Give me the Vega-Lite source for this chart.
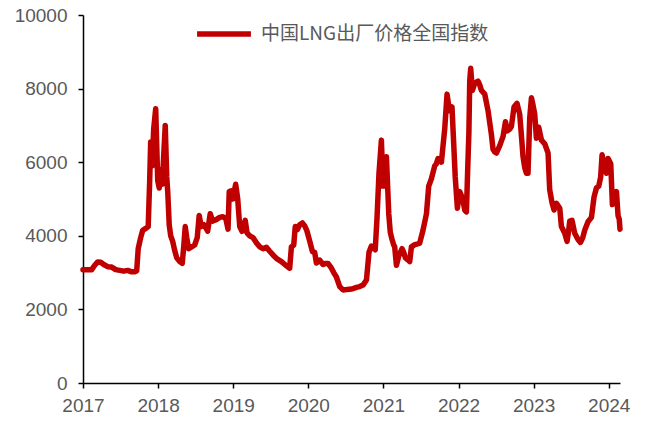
{
  "$schema": "https://vega.github.io/schema/vega-lite/v6.json",
  "width": 537,
  "height": 368,
  "autosize": {"type": "none"},
  "padding": {"left": 83, "top": 15, "right": 25, "bottom": 38},
  "config": {"view": {"stroke": null}, "font": "Liberation Sans"},
  "data": {"values": [
    {"t": 2017.000, "v": 3080}, {"t": 2017.116, "v": 3080}, {"t": 2017.156, "v": 3200}, {"t": 2017.196, "v": 3290},
    {"t": 2017.236, "v": 3280}, {"t": 2017.276, "v": 3220}, {"t": 2017.329, "v": 3160}, {"t": 2017.382, "v": 3150},
    {"t": 2017.435, "v": 3080}, {"t": 2017.489, "v": 3060}, {"t": 2017.542, "v": 3040}, {"t": 2017.595, "v": 3060},
    {"t": 2017.648, "v": 3020}, {"t": 2017.688, "v": 3020}, {"t": 2017.715, "v": 3050}, {"t": 2017.735, "v": 3650},
    {"t": 2017.768, "v": 3950}, {"t": 2017.795, "v": 4150}, {"t": 2017.835, "v": 4200}, {"t": 2017.868, "v": 4250},
    {"t": 2017.888, "v": 5500}, {"t": 2017.901, "v": 6550}, {"t": 2017.921, "v": 5900}, {"t": 2017.941, "v": 6900},
    {"t": 2017.968, "v": 7450}, {"t": 2017.981, "v": 6500}, {"t": 2017.995, "v": 5500}, {"t": 2018.015, "v": 5300},
    {"t": 2018.035, "v": 5800}, {"t": 2018.055, "v": 5400}, {"t": 2018.075, "v": 6200}, {"t": 2018.095, "v": 7000},
    {"t": 2018.115, "v": 5600}, {"t": 2018.128, "v": 5200}, {"t": 2018.148, "v": 4300}, {"t": 2018.168, "v": 4000},
    {"t": 2018.194, "v": 3850}, {"t": 2018.221, "v": 3600}, {"t": 2018.248, "v": 3400}, {"t": 2018.288, "v": 3300},
    {"t": 2018.321, "v": 3250}, {"t": 2018.341, "v": 3700}, {"t": 2018.361, "v": 4250}, {"t": 2018.381, "v": 3950},
    {"t": 2018.407, "v": 3650}, {"t": 2018.447, "v": 3700}, {"t": 2018.487, "v": 3750}, {"t": 2018.521, "v": 3950},
    {"t": 2018.547, "v": 4550}, {"t": 2018.574, "v": 4250}, {"t": 2018.607, "v": 4300}, {"t": 2018.640, "v": 4200},
    {"t": 2018.660, "v": 4130}, {"t": 2018.694, "v": 4600}, {"t": 2018.727, "v": 4400}, {"t": 2018.774, "v": 4440},
    {"t": 2018.820, "v": 4500}, {"t": 2018.860, "v": 4520}, {"t": 2018.900, "v": 4480}, {"t": 2018.931, "v": 4180},
    {"t": 2018.947, "v": 5200}, {"t": 2018.973, "v": 5220}, {"t": 2018.993, "v": 5000}, {"t": 2019.033, "v": 5400},
    {"t": 2019.060, "v": 5000}, {"t": 2019.087, "v": 4250}, {"t": 2019.117, "v": 4120}, {"t": 2019.160, "v": 4420},
    {"t": 2019.184, "v": 4080}, {"t": 2019.220, "v": 4000}, {"t": 2019.264, "v": 3950}, {"t": 2019.313, "v": 3800},
    {"t": 2019.353, "v": 3700}, {"t": 2019.397, "v": 3650}, {"t": 2019.442, "v": 3690}, {"t": 2019.486, "v": 3580},
    {"t": 2019.530, "v": 3480}, {"t": 2019.579, "v": 3380}, {"t": 2019.642, "v": 3300}, {"t": 2019.699, "v": 3200},
    {"t": 2019.752, "v": 3120}, {"t": 2019.775, "v": 3700}, {"t": 2019.806, "v": 3750}, {"t": 2019.826, "v": 4250},
    {"t": 2019.855, "v": 4170}, {"t": 2019.885, "v": 4300}, {"t": 2019.921, "v": 4350}, {"t": 2019.952, "v": 4270},
    {"t": 2019.979, "v": 4150}, {"t": 2020.019, "v": 3850}, {"t": 2020.055, "v": 3570}, {"t": 2020.085, "v": 3550},
    {"t": 2020.108, "v": 3260}, {"t": 2020.152, "v": 3340}, {"t": 2020.196, "v": 3220}, {"t": 2020.232, "v": 3250},
    {"t": 2020.262, "v": 3250}, {"t": 2020.308, "v": 3120}, {"t": 2020.338, "v": 3000}, {"t": 2020.374, "v": 2880},
    {"t": 2020.418, "v": 2620}, {"t": 2020.462, "v": 2530}, {"t": 2020.511, "v": 2540}, {"t": 2020.551, "v": 2550},
    {"t": 2020.591, "v": 2560}, {"t": 2020.641, "v": 2600}, {"t": 2020.684, "v": 2620}, {"t": 2020.728, "v": 2660},
    {"t": 2020.774, "v": 2800}, {"t": 2020.808, "v": 3550}, {"t": 2020.840, "v": 3720}, {"t": 2020.871, "v": 3680},
    {"t": 2020.891, "v": 3620}, {"t": 2020.915, "v": 4500}, {"t": 2020.941, "v": 5700}, {"t": 2020.973, "v": 6600},
    {"t": 2020.995, "v": 5350}, {"t": 2021.017, "v": 5800}, {"t": 2021.040, "v": 6150}, {"t": 2021.071, "v": 4600},
    {"t": 2021.091, "v": 4100}, {"t": 2021.115, "v": 3900}, {"t": 2021.137, "v": 3750}, {"t": 2021.150, "v": 3700},
    {"t": 2021.173, "v": 3200}, {"t": 2021.204, "v": 3450}, {"t": 2021.248, "v": 3650}, {"t": 2021.270, "v": 3550},
    {"t": 2021.293, "v": 3400}, {"t": 2021.324, "v": 3350}, {"t": 2021.350, "v": 3300}, {"t": 2021.373, "v": 3700},
    {"t": 2021.417, "v": 3760}, {"t": 2021.457, "v": 3780}, {"t": 2021.483, "v": 3800}, {"t": 2021.527, "v": 4150},
    {"t": 2021.573, "v": 4600}, {"t": 2021.603, "v": 5350}, {"t": 2021.639, "v": 5550}, {"t": 2021.683, "v": 5900},
    {"t": 2021.703, "v": 5950}, {"t": 2021.727, "v": 6100}, {"t": 2021.750, "v": 6080}, {"t": 2021.772, "v": 6000},
    {"t": 2021.816, "v": 6900}, {"t": 2021.847, "v": 7850}, {"t": 2021.879, "v": 7400}, {"t": 2021.913, "v": 7500},
    {"t": 2021.936, "v": 6500}, {"t": 2021.956, "v": 5600}, {"t": 2021.985, "v": 4750}, {"t": 2022.016, "v": 5200},
    {"t": 2022.036, "v": 5100}, {"t": 2022.060, "v": 4950}, {"t": 2022.083, "v": 4700}, {"t": 2022.105, "v": 4650},
    {"t": 2022.122, "v": 5800}, {"t": 2022.138, "v": 6800}, {"t": 2022.149, "v": 8200}, {"t": 2022.162, "v": 8550},
    {"t": 2022.185, "v": 7950}, {"t": 2022.216, "v": 8150}, {"t": 2022.260, "v": 8200}, {"t": 2022.282, "v": 8100},
    {"t": 2022.305, "v": 7950}, {"t": 2022.349, "v": 7850}, {"t": 2022.393, "v": 7400}, {"t": 2022.438, "v": 6750},
    {"t": 2022.459, "v": 6350}, {"t": 2022.482, "v": 6280}, {"t": 2022.505, "v": 6250}, {"t": 2022.549, "v": 6450},
    {"t": 2022.593, "v": 6700}, {"t": 2022.625, "v": 7100}, {"t": 2022.651, "v": 6850}, {"t": 2022.682, "v": 6900},
    {"t": 2022.704, "v": 6970}, {"t": 2022.739, "v": 7500}, {"t": 2022.779, "v": 7600}, {"t": 2022.815, "v": 7300},
    {"t": 2022.842, "v": 6600}, {"t": 2022.859, "v": 6150}, {"t": 2022.882, "v": 5850}, {"t": 2022.904, "v": 5700},
    {"t": 2022.925, "v": 5700}, {"t": 2022.948, "v": 7200}, {"t": 2022.971, "v": 7750}, {"t": 2022.992, "v": 7550},
    {"t": 2023.015, "v": 7300}, {"t": 2023.037, "v": 6650}, {"t": 2023.068, "v": 6950}, {"t": 2023.104, "v": 6600},
    {"t": 2023.148, "v": 6500}, {"t": 2023.192, "v": 6250}, {"t": 2023.214, "v": 5250}, {"t": 2023.245, "v": 4900},
    {"t": 2023.272, "v": 4700}, {"t": 2023.304, "v": 4880}, {"t": 2023.348, "v": 4750}, {"t": 2023.370, "v": 4250},
    {"t": 2023.414, "v": 4070}, {"t": 2023.445, "v": 3850}, {"t": 2023.467, "v": 4150}, {"t": 2023.481, "v": 4400},
    {"t": 2023.511, "v": 4420}, {"t": 2023.547, "v": 4070}, {"t": 2023.591, "v": 3900}, {"t": 2023.623, "v": 3820},
    {"t": 2023.654, "v": 3950}, {"t": 2023.680, "v": 4150}, {"t": 2023.724, "v": 4380}, {"t": 2023.770, "v": 4500},
    {"t": 2023.804, "v": 5050}, {"t": 2023.836, "v": 5300}, {"t": 2023.867, "v": 5350}, {"t": 2023.893, "v": 5600},
    {"t": 2023.911, "v": 6200}, {"t": 2023.937, "v": 5950}, {"t": 2023.969, "v": 5700}, {"t": 2023.991, "v": 6100},
    {"t": 2024.027, "v": 5950}, {"t": 2024.049, "v": 4850}, {"t": 2024.080, "v": 5050}, {"t": 2024.103, "v": 5200},
    {"t": 2024.124, "v": 4550}, {"t": 2024.140, "v": 4450}, {"t": 2024.150, "v": 4180}
  ]},
  "mark": {"type": "line", "strokeWidth": 5.5, "strokeCap": "round", "strokeJoin": "round"},
  "encoding": {
    "x": {
      "field": "t", "type": "quantitative",
      "scale": {"domain": [2017, 2024.15], "nice": false, "zero": false},
      "axis": {
        "values": [2017, 2018, 2019, 2020, 2021, 2022, 2023, 2024], "format": "d", "title": null, "grid": false,
        "domainColor": "#000000", "domainWidth": 1.5, "tickColor": "#000000", "tickWidth": 1.5, "tickSize": 5,
        "labelFontSize": 19, "labelColor": "#595959", "labelPadding": 8, "labelFlush": false
      }
    },
    "y": {
      "field": "v", "type": "quantitative",
      "scale": {"domain": [0, 10000], "nice": false},
      "axis": {
        "values": [0, 2000, 4000, 6000, 8000, 10000], "format": "d", "title": null, "grid": false,
        "domainColor": "#000000", "domainWidth": 1.5, "tickColor": "#000000", "tickWidth": 1.5, "tickSize": 5,
        "labelFontSize": 19, "labelColor": "#595959", "labelPadding": 11
      }
    },
    "color": {
      "datum": "中国LNG出厂价格全国指数",
      "scale": {"range": ["#C00000"]},
      "legend": {
        "title": null, "orient": "none", "legendX": 111, "legendY": -11, "padding": 0,
        "symbolType": "stroke", "symbolSize": 2900, "symbolStrokeWidth": 5.5,
        "labelFont": "Noto Sans CJK SC", "labelFontSize": 19, "labelColor": "#595959", "labelOffset": 7,
        "labelLimit": 0
      }
    }
  }
}
